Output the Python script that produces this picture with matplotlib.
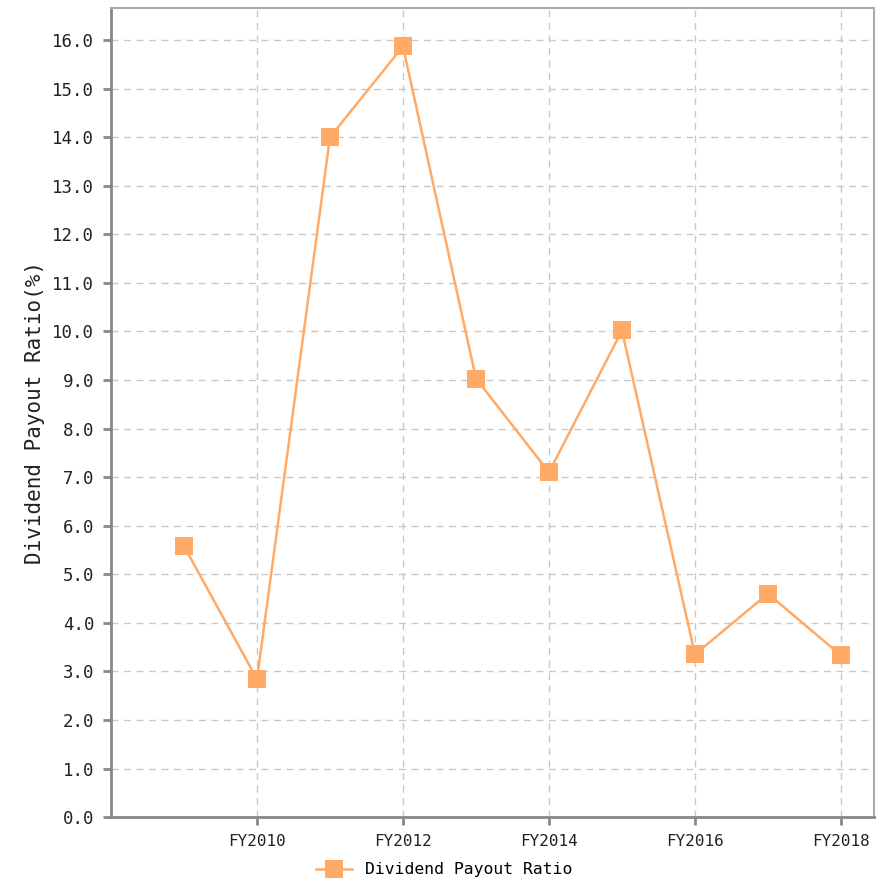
import matplotlib
matplotlib.use("Agg")
import matplotlib.pyplot as plt

# Data
years = [2009, 2010, 2011, 2012, 2013, 2014, 2015, 2016, 2017, 2018]
payout_ratio = [5.58, 2.84, 14.0, 15.87, 9.03, 7.1, 10.02, 3.35, 4.6, 3.33]
tick_years = [2010, 2012, 2014, 2016, 2018]
tick_labels = ["FY%d" % y for y in tick_years]

plt.rcParams["font.family"] = ["DejaVu Sans Mono", "DejaVu Sans"]

color = "#ffaa66"
spine_color = "#888888"

fig = plt.figure(figsize=(8.88, 8.92), dpi=100)
ax = fig.add_axes([0.125, 0.084, 0.859, 0.907])

ax.plot(years, payout_ratio, color=color, linewidth=1.8, marker="s",
        markersize=13.5, markeredgewidth=0, label="Dividend Payout Ratio")

ax.set_xlim(2008, 2018.45)
ax.set_ylim(0, 16.66)
ax.set_yticks(range(0, 17))
ax.set_yticklabels(["%.1f" % v for v in range(0, 17)])
ax.set_xticks(tick_years)
ax.set_xticklabels(tick_labels)

ax.grid(True, color="#c8c8c8", linestyle=(0, (5, 4)), linewidth=1)
ax.set_axisbelow(True)

for side in ["left", "bottom"]:
    ax.spines[side].set_color(spine_color)
    ax.spines[side].set_linewidth(2)
for side in ["top", "right"]:
    ax.spines[side].set_color("#aaaaaa")
    ax.spines[side].set_linewidth(1.5)

ax.tick_params(axis="both", direction="out", length=6, width=2,
               color=spine_color, labelcolor="#222222", pad=6)
ax.tick_params(axis="y", labelsize=12.5)
ax.tick_params(axis="x", labelsize=11.5)

ax.set_ylabel("Dividend Payout Ratio(%)", fontsize=15, color="#222222", labelpad=5)

fig.legend(loc="lower center", bbox_to_anchor=(0.5, 0.0), frameon=False,
           fontsize=11.8, handlelength=2.2, markerscale=1.0)

fig.savefig("out.png", dpi=100, facecolor="white")
